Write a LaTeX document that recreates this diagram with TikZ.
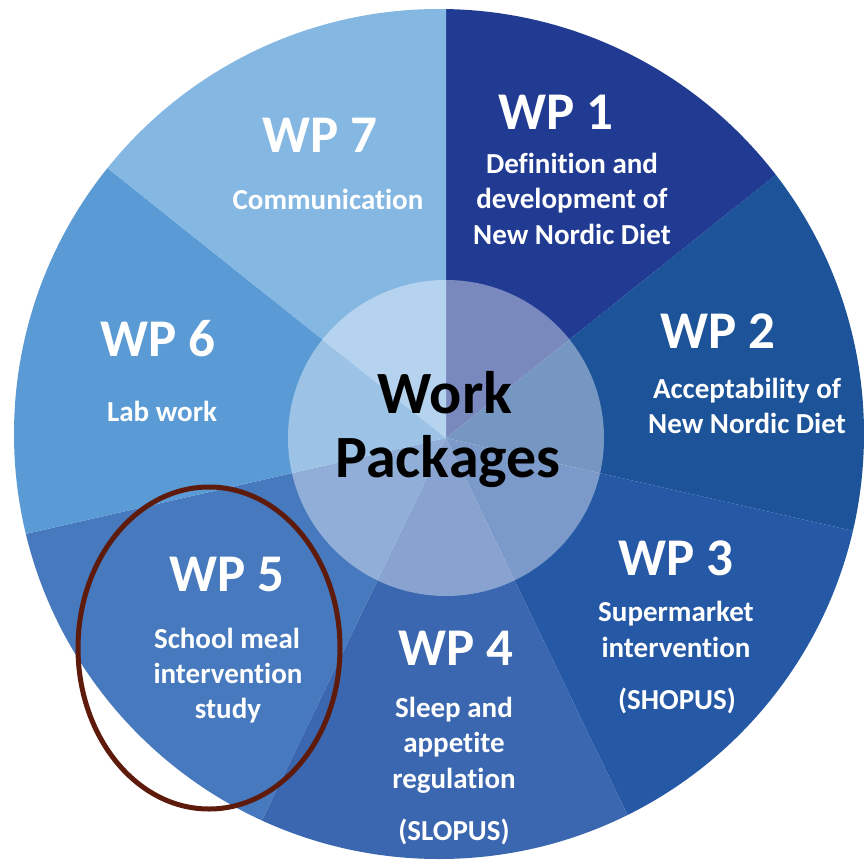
\documentclass[tikz,border=0pt]{standalone}
\usepackage{fontspec}
\setmainfont{Carlito}[Ligatures={NoCommon}]
\usetikzlibrary{calc}
\definecolor{cA}{HTML}{213B93}
\definecolor{cB}{HTML}{1C5399}
\definecolor{cC}{HTML}{2558A5}
\definecolor{cD}{HTML}{3A67AF}
\definecolor{cE}{HTML}{4679BD}
\definecolor{cF}{HTML}{5B9BD5}
\definecolor{cG}{HTML}{85B7E3}
\definecolor{ringred}{HTML}{5E1B0C}
\tikzset{
  wptitle/.style={anchor=base, text=white, inner sep=0pt, font=\fontsize{53}{60}\selectfont\bfseries},
  wpdesc/.style={anchor=base, text=white, inner sep=0pt, font=\fontsize{29}{34}\selectfont\bfseries},
  centertxt/.style={anchor=base, text=black, inner sep=0pt, font=\fontsize{60}{64}\selectfont\bfseries},
}
\newcommand{\wedgefill}[3]{%
  \fill[#1] (hub) -- ([shift={(#2:700)}]hub) -- ([shift={({(#2+#3)/2}:700)}]hub) -- ([shift={(#3:700)}]hub) -- cycle;}
\begin{document}
\begin{tikzpicture}[x=1pt,y=-1pt]
\useasboundingbox (0,0) rectangle (864,864);
\fill[white] (0,0) rectangle (864,864);
\coordinate (hub) at (446,438);
\begin{scope}
  \clip (439,434) circle (425);
  \wedgefill{cA}{-90}{-38.57}
  \wedgefill{cB}{-38.57}{12.86}
  \wedgefill{cC}{12.86}{64.29}
  \wedgefill{cD}{64.29}{115.71}
  \wedgefill{cE}{115.71}{167.14}
  \wedgefill{cF}{167.14}{218.57}
  \wedgefill{cG}{218.57}{270}
\end{scope}
\fill[white, fill opacity=0.4] (hub) circle (158);
% WP 7
\node[wptitle] (t7) at (320,153) {WP 7};
\node[wpdesc] (d7) at (328,209) {Communication};
% WP 1
\node[wptitle] (t1) at (556,130) {WP 1};
\node[wpdesc] (d1a) at (572,173) {Definition and};
\node[wpdesc] (d1b) at (572,208) {development of};
\node[wpdesc] (d1c) at (572,244) {New Nordic Diet};
% WP 2
\node[wptitle] (t2) at (718,348) {WP 2};
\node[wpdesc] (d2a) at (747,398) {Acceptability of};
\node[wpdesc] (d2b) at (747,433) {New Nordic Diet};
% WP 3
\node[wptitle] (t3) at (676,575) {WP 3};
\node[wpdesc] (d3a) at (676,621) {Supermarket};
\node[wpdesc] (d3b) at (676,657) {intervention};
\node[wpdesc] (d3c) at (677,709) {(SHOPUS)};
% WP 4
\node[wptitle] (t4) at (456,665) {WP 4};
\node[wpdesc] (d4a) at (454,717) {Sleep and};
\node[wpdesc] (d4b) at (454,752) {appetite};
\node[wpdesc] (d4c) at (454,788) {regulation};
\node[wpdesc] (d4d) at (454,840) {(SLOPUS)};
% WP 5
\node[wptitle] (t5) at (227,591) {WP 5};
\node[wpdesc] (d5a) at (227,648) {School meal};
\node[wpdesc] (d5b) at (228,683) {intervention};
\node[wpdesc] (d5c) at (228,718) {study};
% WP 6
\node[wptitle] (t6) at (158,356) {WP 6};
\node[wpdesc] (d6) at (162,421) {Lab work};
% centre
\node[centertxt] (w1) at (445,413) {Work};
\node[centertxt] (w2) at (448,477) {Packages};
% highlight ellipse
\draw[ringred, line width=5pt] (209,648) ellipse [x radius=131, y radius=161];
\end{tikzpicture}
\end{document}
